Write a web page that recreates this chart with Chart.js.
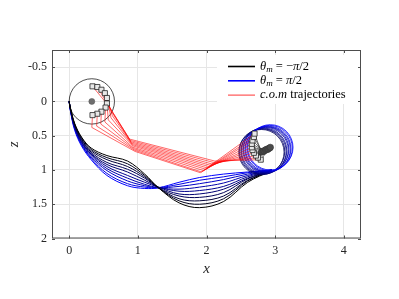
<!DOCTYPE html>
<html>
<head>
<meta charset="utf-8">
<script src="https://cdn.jsdelivr.net/npm/chart.js@4.4.1/dist/chart.umd.min.js"></script>
<style>
  html, body { margin: 0; padding: 0; background: #fff; }
</style>
</head>
<body>
<canvas id="paths" width="399" height="299"></canvas>
<script>
// ----- data -----
const xTicks = [0, 1, 2, 3, 4];
const zTicks = [-0.5, 0, 0.5, 1, 1.5, 2];

// contact-point paths, one per theta_m (black -> blue), sampled at pathX
const pathX = [0, 0.02, 0.08, 0.18, 0.32, 0.55, 0.85, 1.1, 1.3, 1.6, 1.9, 2.25, 2.6, 2.95];
const pathZ = [
  [0, 0.10, 0.32, 0.52, 0.68, 0.79, 0.87, 1.06, 1.26, 1.48, 1.55, 1.46, 1.18, 1.01],
  [0, 0.11, 0.33, 0.53, 0.70, 0.82, 0.91, 1.08, 1.26, 1.45, 1.50, 1.42, 1.16, 1.01],
  [0, 0.11, 0.34, 0.55, 0.72, 0.85, 0.95, 1.10, 1.26, 1.42, 1.45, 1.38, 1.15, 1.01],
  [0, 0.12, 0.35, 0.56, 0.74, 0.89, 0.99, 1.12, 1.26, 1.38, 1.40, 1.33, 1.13, 1.01],
  [0, 0.12, 0.36, 0.58, 0.76, 0.92, 1.03, 1.15, 1.25, 1.35, 1.35, 1.28, 1.12, 1.00],
  [0, 0.13, 0.37, 0.59, 0.77, 0.95, 1.08, 1.18, 1.25, 1.31, 1.30, 1.24, 1.10, 1.00],
  [0, 0.13, 0.38, 0.60, 0.79, 0.98, 1.12, 1.21, 1.26, 1.28, 1.25, 1.19, 1.08, 1.00],
  [0, 0.14, 0.39, 0.62, 0.81, 1.01, 1.16, 1.23, 1.26, 1.24, 1.20, 1.14, 1.06, 1.00],
  [0, 0.14, 0.40, 0.63, 0.83, 1.05, 1.20, 1.25, 1.26, 1.21, 1.15, 1.10, 1.04, 1.00],
  [0, 0.15, 0.42, 0.65, 0.85, 1.08, 1.23, 1.27, 1.26, 1.18, 1.11, 1.06, 1.03, 1.00]
];

// wheel centres
const wheelStart = [[0.33, 0]];
const wheelEnd = [[2.80, 0.74], [2.81, 0.73], [2.83, 0.73], [2.84, 0.72], [2.86, 0.71],
                  [2.87, 0.70], [2.89, 0.70], [2.90, 0.69], [2.92, 0.68], [2.93, 0.67]];

// c.o.m trajectories: start -> kink -> bundle in -> bundle out -> end
const comStart = [[0.34, -0.22], [0.41, -0.21], [0.47, -0.17], [0.52, -0.12], [0.55, -0.05],
                  [0.55, 0.03], [0.53, 0.09], [0.47, 0.15], [0.41, 0.18], [0.34, 0.20]];
const comKink = [[0.57, 0.06], [0.61, 0.12], [0.63, 0.17], [0.63, 0.21], [0.61, 0.24],
                 [0.57, 0.27], [0.52, 0.30], [0.46, 0.33], [0.40, 0.36], [0.33, 0.38]];
const comMidA = [[0.88, 0.55], [0.89, 0.57], [0.90, 0.59], [0.91, 0.61], [0.92, 0.63],
                 [0.93, 0.65], [0.93, 0.67], [0.94, 0.69], [0.95, 0.71], [0.96, 0.73]];
const comMidB = [[2.12, 0.87], [2.10, 0.89], [2.07, 0.91], [2.05, 0.93], [2.03, 0.95],
                 [2.01, 0.97], [1.99, 0.99], [1.96, 1.01], [1.93, 1.03], [1.91, 1.04]];
const comEnd = [[2.79, 0.85], [2.75, 0.82], [2.72, 0.79], [2.69, 0.75], [2.67, 0.71],
                [2.66, 0.67], [2.66, 0.62], [2.67, 0.57], [2.69, 0.52], [2.70, 0.47]];

// legend text runs: i = italic, s = subscript, n = upright
const legendRuns = [
  [['θ', 'i'], ['m', 's'], [' = −', 'n'], ['π', 'i'], ['/2', 'n']],
  [['θ', 'i'], ['m', 's'], [' = ', 'n'], ['π', 'i'], ['/2', 'n']],
  [['c.o.m', 'i'], [' trajectories', 'n']]
];

const wheelR = 0.33;

// ----- helpers -----
const pts = arr => arr.map(([x, y]) => ({ x, y }));
const shade = k => `rgb(0,0,${Math.round(255 * k / (pathZ.length - 1))})`;
const wheelShade = k => `rgb(0,0,${Math.round(90 + 165 * k / (wheelEnd.length - 1))})`;
const serif = '"Liberation Serif", "DejaVu Serif", serif';
const inkColor = '#262626';
const wheelPx = ctx => {
  const s = ctx.chart.scales.x;
  return Math.abs(s.getPixelForValue(wheelR) - s.getPixelForValue(0));
};

const datasets = [];

// top-most first
datasets.push({
  data: pts(wheelStart), showLine: false, pointRadius: 3,
  pointBackgroundColor: '#6e6e6e', pointBorderColor: '#555', pointBorderWidth: 0.5
});
datasets.push({
  data: pts(comStart), showLine: false, pointStyle: 'rect', pointRadius: 3.6,
  pointBackgroundColor: '#e8e8e8', pointBorderColor: '#222', pointBorderWidth: 0.8
});
datasets.push({
  data: pts(comEnd), showLine: false, pointStyle: 'rect', pointRadius: 3.6,
  pointBackgroundColor: '#e8e8e8', pointBorderColor: '#222', pointBorderWidth: 0.8
});
datasets.push({
  data: pts(wheelEnd), showLine: false, pointRadius: 3.2,
  pointBackgroundColor: '#4a4a4a', pointBorderColor: '#333', pointBorderWidth: 0.5
});
// rods from the end wheel centres to the c.o.m
comEnd.forEach((p, j) => {
  datasets.push({
    data: pts([p, wheelEnd[comEnd.length - 1 - j]]), showLine: true, pointRadius: 0,
    borderColor: '#333', borderWidth: 0.7
  });
});
// c.o.m trajectories
comStart.forEach((p, i) => {
  datasets.push({
    data: pts([p, comKink[i], comMidA[i], comMidB[i], comEnd[i]]), showLine: true,
    pointRadius: 0, borderColor: '#ff0000', borderWidth: 0.6, tension: 0
  });
});
// wheels
datasets.push({
  data: pts(wheelStart), showLine: false, pointRadius: wheelPx,
  pointBackgroundColor: 'rgba(0,0,0,0)', pointBorderColor: '#000', pointBorderWidth: 0.7
});
datasets.push({
  data: pts(wheelEnd), showLine: false, pointRadius: wheelPx,
  pointBackgroundColor: 'rgba(0,0,0,0)',
  pointBorderColor: wheelEnd.map((_, k) => wheelShade(k)), pointBorderWidth: 0.8
});
// contact paths
pathZ.forEach((zs, k) => {
  datasets.push({
    data: zs.map((z, i) => ({ x: pathX[i], y: z })), showLine: true, pointRadius: 0,
    borderColor: shade(k), borderWidth: 1, tension: 0.35
  });
});

// ----- box, inner ticks, legend -----
const frame = {
  id: 'frame',
  afterDatasetsDraw(chart) {
    const { ctx, chartArea: a, scales: { x, y } } = chart;
    ctx.save();
    ctx.strokeStyle = '#4d4d4d';
    ctx.lineWidth = 1;
    ctx.strokeRect(a.left + 0.5, a.top + 0.5, a.right - a.left - 1, a.bottom - a.top - 1);
    ctx.beginPath();
    xTicks.forEach(v => {
      const px = Math.round(x.getPixelForValue(v)) + 0.5;
      ctx.moveTo(px, a.bottom); ctx.lineTo(px, a.bottom - 3);
      ctx.moveTo(px, a.top); ctx.lineTo(px, a.top + 3);
    });
    zTicks.forEach(v => {
      const py = Math.round(y.getPixelForValue(v)) + 0.5;
      ctx.moveTo(a.left, py); ctx.lineTo(a.left + 3, py);
      ctx.moveTo(a.right, py); ctx.lineTo(a.right - 3, py);
    });
    ctx.stroke();
    ctx.restore();
  },
  afterDraw(chart) {
    const { ctx, chartArea: a } = chart;
    const bx = a.right - 144, by = a.top + 5;
    ctx.save();
    ctx.fillStyle = '#fff';
    ctx.fillRect(bx, by, 141, 49);
    const colors = ['#000', '#0000ff', '#ff0000'];
    const widths = [1.6, 1.6, 0.8];
    legendRuns.forEach((runs, r) => {
      const cy = by + 11.5 + r * 14.3;
      ctx.strokeStyle = colors[r];
      ctx.lineWidth = widths[r];
      ctx.beginPath();
      ctx.moveTo(bx + 11, cy); ctx.lineTo(bx + 38, cy);
      ctx.stroke();
      let tx = bx + 43;
      ctx.fillStyle = '#000';
      ctx.textBaseline = 'middle';
      runs.forEach(([t, f]) => {
        let dy = 0;
        if (f === 'i') ctx.font = `italic 12.5px ${serif}`;
        else if (f === 's') { ctx.font = `italic 9px ${serif}`; dy = 3; }
        else ctx.font = `12.5px ${serif}`;
        ctx.fillText(t, tx, cy + dy);
        tx += ctx.measureText(t).width;
      });
    });
    ctx.restore();
  }
};

new Chart(document.getElementById('paths'), {
  type: 'scatter',
  data: { datasets },
  options: {
    responsive: false,
    devicePixelRatio: 1,
    animation: false,
    events: [],
    layout: { padding: { top: 50, right: 38, left: 0, bottom: 0 } },
    plugins: { legend: { display: false }, tooltip: { enabled: false } },
    scales: {
      x: {
        type: 'linear', position: 'bottom', min: -0.25, max: 4.25,
        afterBuildTicks: s => { s.ticks = xTicks.map(v => ({ value: v })); },
        afterFit: s => { s.height = 60.5; },
        grid: { color: '#e6e6e6', drawTicks: false },
        border: { display: false },
        ticks: { color: inkColor, padding: 5, font: { family: serif, size: 12 }, callback: v => String(v) },
        title: { display: true, text: 'x', color: inkColor, font: { family: serif, size: 15, style: 'italic' }, padding: { top: 0, bottom: 21 } }
      },
      y: {
        type: 'linear', position: 'left', min: -0.75, max: 2, reverse: true,
        afterBuildTicks: s => { s.ticks = zTicks.map(v => ({ value: v })); },
        afterFit: s => { s.width = 52; },
        grid: { color: '#e6e6e6', drawTicks: false },
        border: { display: false },
        ticks: { color: inkColor, padding: 5, font: { family: serif, size: 12 }, callback: v => String(v) },
        title: { display: true, text: 'z', color: inkColor, font: { family: serif, size: 15, style: 'italic' }, padding: { top: 5, bottom: 0 } }
      }
    }
  },
  plugins: [frame]
});
</script>
</body>
</html>
